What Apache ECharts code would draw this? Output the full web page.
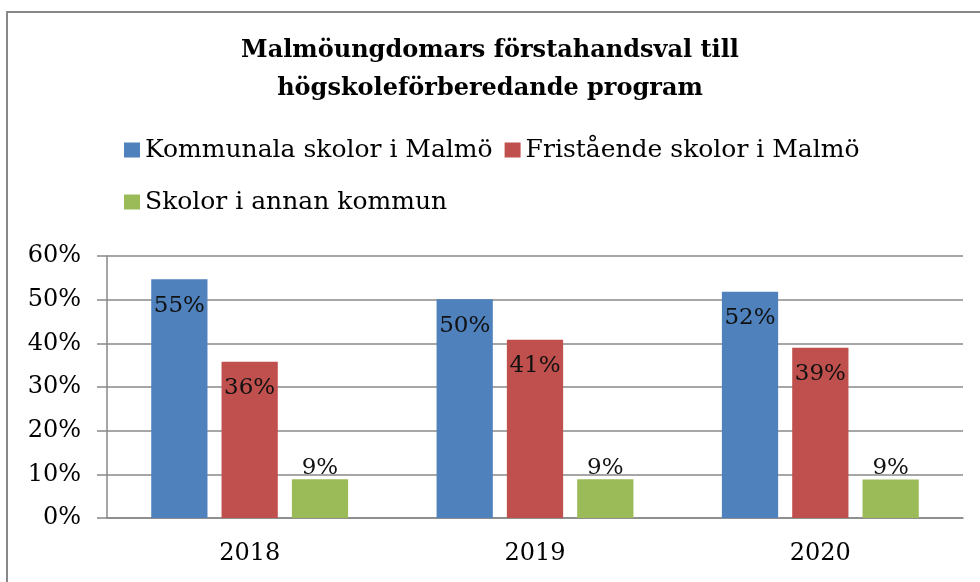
<!DOCTYPE html>
<html>
<head>
<meta charset="utf-8">
<script src="https://cdn.jsdelivr.net/npm/echarts@6/dist/echarts.min.js"></script>
<style>
  html, body { margin: 0; padding: 0; background: #ffffff; }
  #main { width: 980px; height: 582px; }
</style>
</head>
<body>
<div id="main"></div>
<script>
// data
const years = ['2018', '2019', '2020'];
const seriesNames = ['Kommunala skolor i Malmö', 'Fristående skolor i Malmö', 'Skolor i annan kommun'];
const kommunala = [54.7, 50.1, 51.8];
const fristaende = [35.8, 40.8, 39.0];
const annanKommun = [8.9, 8.9, 8.8];
const yTicks = [0, 10, 20, 30, 40, 50, 60];

const serif = '"DejaVu Serif", "Liberation Serif", serif';
const colors = ['#4f81bd', '#c0504d', '#9bbb59'];

const chart = echarts.init(document.getElementById('main'));

function pct(p) {
  return Math.round(p.value) + '%';
}

const option = {
  animation: false,
  color: colors,
  title: {
    text: 'Malmöungdomars förstahandsval till\nhögskoleförberedande program',
    left: 'center',
    top: 27,
    textStyle: {
      fontFamily: serif,
      fontWeight: 'bold',
      fontSize: 24,
      lineHeight: 38,
      color: '#000'
    }
  },
  legend: {
    data: seriesNames,
    left: 124,
    top: 130,
    width: 760,
    itemWidth: 16,
    itemHeight: 15,
    itemGap: 12,
    icon: 'rect',
    padding: [0, 0, 0, 0],
    textStyle: { fontFamily: serif, fontSize: 25, color: '#000', lineHeight: 40 }
  },
  grid: { left: 107, right: 17, top: 256, bottom: 64 },
  xAxis: {
    type: 'category',
    data: years,
    axisLine: { lineStyle: { color: '#888', width: 1.5 } },
    axisTick: { show: false },
    axisLabel: { fontFamily: serif, fontSize: 24, color: '#000', margin: 24 }
  },
  yAxis: {
    type: 'value',
    min: yTicks[0],
    max: yTicks[yTicks.length - 1],
    interval: 10,
    axisLine: { show: true, lineStyle: { color: '#888', width: 1.5 } },
    axisTick: { show: true, length: 10, lineStyle: { color: '#888', width: 1.5 } },
    splitLine: { lineStyle: { color: '#888', width: 1.5 } },
    axisLabel: {
      fontFamily: serif, fontSize: 24, color: '#000', margin: 26,
      formatter: v => v + '%'
    }
  },
  series: [
    {
      name: seriesNames[0], type: 'bar', data: kommunala,
      barGap: '25%', barCategoryGap: '31%',
      label: { show: true, position: 'insideTop', distance: 15, formatter: pct, fontFamily: serif, fontSize: 23, color: '#111' }
    },
    {
      name: seriesNames[1], type: 'bar', data: fristaende,
      barGap: '25%', barCategoryGap: '31%',
      label: { show: true, position: 'insideTop', distance: 15, formatter: pct, fontFamily: serif, fontSize: 23, color: '#111' }
    },
    {
      name: seriesNames[2], type: 'bar', data: annanKommun,
      barGap: '25%', barCategoryGap: '31%',
      label: { show: true, position: 'top', distance: 0, formatter: pct, fontFamily: serif, fontSize: 23, color: '#111' }
    }
  ],
  graphic: [
    {
      type: 'rect',
      silent: true,
      shape: { x: 7, y: 12, width: 1000, height: 600 },
      style: { fill: 'none', stroke: '#888', lineWidth: 2 }
    }
  ]
};

chart.setOption(option);
</script>
</body>
</html>
